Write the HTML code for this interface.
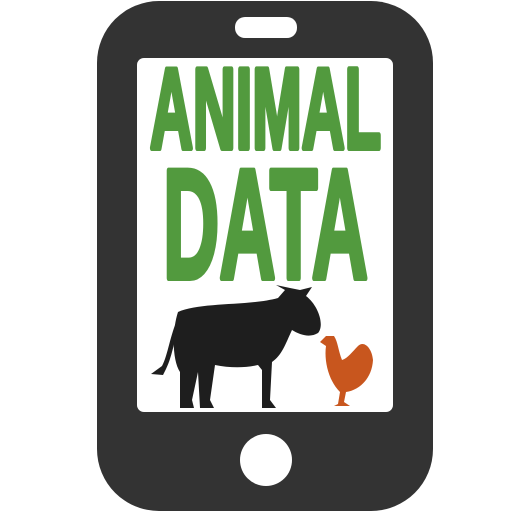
<!DOCTYPE html>
<html><head><meta charset="utf-8"><style>
html,body{margin:0;padding:0;background:#fff;width:512px;height:512px;overflow:hidden}
</style></head><body>
<svg width="512" height="512" viewBox="0 0 512 512">
  <rect x="97" y="1" width="336" height="510" rx="62" fill="#333333"/>
  <rect x="137" y="58" width="256" height="354" rx="7" fill="#ffffff"/>
  <rect x="235" y="17" width="62" height="21" rx="10" fill="#ffffff"/>
  <circle cx="266" cy="460" r="26" fill="#ffffff"/>
  <text x="150" y="148" font-family="'Liberation Sans',sans-serif" font-weight="700" font-size="114" fill="#529a3e" stroke="#529a3e" stroke-width="6" stroke-linejoin="round" textLength="231" lengthAdjust="spacingAndGlyphs">ANIMAL</text>
  <text x="163" y="278" font-family="'Liberation Sans',sans-serif" font-weight="700" font-size="156" fill="#529a3e" stroke="#529a3e" stroke-width="6" stroke-linejoin="round" textLength="205" lengthAdjust="spacingAndGlyphs">DATA</text>
  <g fill="#1e1e1e">
    <path d="M178,312 C200,302 250,306 278,298 L285,290 L276,285 L290,288 L300,290 L312,287 L306,296 C318,305 325,325 318,333 C310,338 300,335 292,330 C285,345 282,355 272,362 L270,400 L276,408 L262,408 L262,370 L258,365 C245,368 230,368 215,365 L210,400 L214,408 L200,408 L198,372 L192,400 L194,408 L180,408 L180,372 C172,360 172,330 178,312 Z"/>
    <path d="M178,318 C170,335 168,355 162,366 L151,374 L163,375 L166,369 C173,355 175,335 181,320 Z"/>
  </g>
  <path fill="#c8561e" d="M326,336 L320,342 L326,346 C324,360 328,380 340,392 L338,404 L334,406 L350,406 L344,402 L346,392 C360,390 372,378 373,360 C372,348 364,340 358,346 C352,352 348,358 342,360 C338,350 338,342 334,336 Z"/>
</svg>
</body></html>
